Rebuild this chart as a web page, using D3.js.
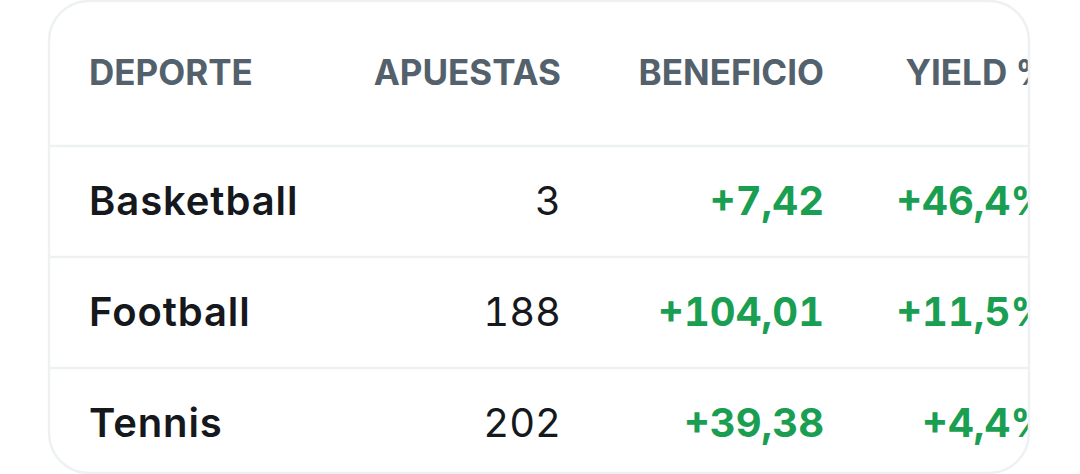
<!DOCTYPE html>
<html>
<head>
<meta charset="utf-8">
<script src="https://cdn.jsdelivr.net/npm/d3@7"></script>
<style>
  html, body { margin: 0; padding: 0; background: #ffffff; }
  svg { display: block; }
  .num { font-variant-numeric: tabular-nums; font-feature-settings: "tnum" 1; }
</style>
</head>
<body>
<div id="chart"></div>
<script>
// Datos de la tabla
const headers = ["DEPORTE", "APUESTAS", "BENEFICIO", "YIELD %"];
const sports = ["Basketball", "Football", "Tennis"];
const bets = [3, 188, 202];
const profit = [7.42, 104.01, 39.38];
const yieldPct = [46.4, 11.5, 4.4];

const width = 1080;
const height = 474;
const card = { left: 49, top: 1, right: 1029, bottom: 473, radius: 40 };
const headerHeight = 145;
const rowHeight = 111;

const locale = d3.formatLocale({ decimal: ",", thousands: ".", grouping: [3], currency: ["", "€"] });
const fmtProfit = locale.format("+.2f");
const fmtYield = v => locale.format("+.1f")(v) + "%";

const rows = sports.map((s, i) => ({
    sport: s,
    bets: bets[i],
    profit: profit[i],
    yield: yieldPct[i]
}));

const svg = d3.select("#chart")
    .append("svg")
    .attr("width", width)
    .attr("height", height)
    .attr("viewBox", `0 0 ${width} ${height}`);

// Columnas: la primera alineada a la izquierda, el resto a la derecha
const xCol = d3.scaleOrdinal()
    .domain(headers)
    .range([89, 561, 824, 1051]);

const yRow = d3.scaleBand()
    .domain(sports)
    .range([card.top + headerHeight, card.top + headerHeight + rowHeight * sports.length]);

svg.append("clipPath")
    .attr("id", "card-clip")
    .append("rect")
    .attr("x", card.left)
    .attr("y", card.top)
    .attr("width", card.right - card.left)
    .attr("height", card.bottom - card.top)
    .attr("rx", card.radius);

const g = svg.append("g").attr("clip-path", "url(#card-clip)");

// Cabecera
g.selectAll(".header")
    .data(headers)
    .enter()
    .append("text")
    .attr("class", "header")
    .attr("x", d => xCol(d))
    .attr("y", 85)
    .attr("text-anchor", (d, i) => i === 0 ? "start" : "end")
    .attr("fill", "#53616c")
    .style("font-family", "Inter, 'Liberation Sans', sans-serif")
    .style("font-weight", 700)
    .style("font-size", "35px")
    .text(d => d);

// Líneas separadoras
g.selectAll(".sep")
    .data(sports)
    .enter()
    .append("line")
    .attr("class", "sep")
    .attr("x1", card.left)
    .attr("x2", card.right)
    .attr("y1", d => yRow(d))
    .attr("y2", d => yRow(d))
    .attr("stroke", "#eef1f2")
    .attr("stroke-width", 2.5);

const row = g.selectAll(".row")
    .data(rows)
    .enter()
    .append("g")
    .attr("class", "row")
    .attr("transform", d => `translate(0,${yRow(d.sport) + 69})`);

row.append("text")
    .attr("x", xCol(headers[0]))
    .attr("fill", "#15181c")
    .style("font-family", "Inter, sans-serif")
    .style("font-weight", 600)
    .style("font-size", "40px")
    .style("letter-spacing", "0.9px")
    .text(d => d.sport);

row.append("text")
    .attr("class", "num")
    .attr("x", xCol(headers[1]))
    .attr("text-anchor", "end")
    .attr("fill", "#15181c")
    .style("font-family", "Inter, sans-serif")
    .style("font-weight", 400)
    .style("font-size", "40px")
    .text(d => d.bets);

row.append("text")
    .attr("class", "num")
    .attr("x", xCol(headers[2]))
    .attr("text-anchor", "end")
    .attr("fill", d => d.profit >= 0 ? "#1a9e52" : "#d93a3a")
    .style("font-family", "Inter, sans-serif")
    .style("font-weight", 700)
    .style("font-size", "40px")
    .text(d => fmtProfit(d.profit));

row.append("text")
    .attr("class", "num")
    .attr("x", xCol(headers[3]))
    .attr("text-anchor", "end")
    .attr("fill", d => d.yield >= 0 ? "#1a9e52" : "#d93a3a")
    .style("font-family", "Inter, sans-serif")
    .style("font-weight", 700)
    .style("font-size", "40px")
    .text(d => fmtYield(d.yield));

// Borde de la tarjeta
svg.append("rect")
    .attr("x", card.left)
    .attr("y", card.top)
    .attr("width", card.right - card.left)
    .attr("height", card.bottom - card.top)
    .attr("rx", card.radius)
    .attr("fill", "none")
    .attr("stroke", "#eef1f2")
    .attr("stroke-width", 2.5);
</script>
</body>
</html>
